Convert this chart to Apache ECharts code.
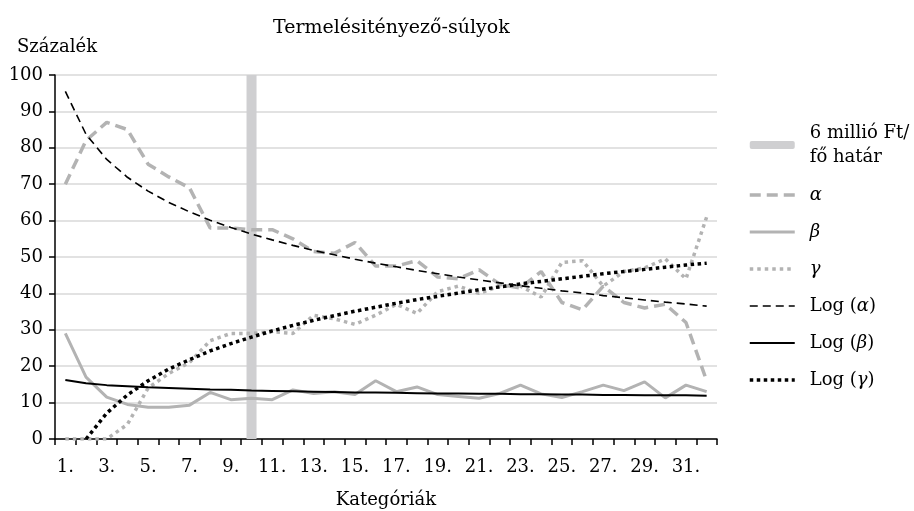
<!DOCTYPE html>
<html>
<head>
<meta charset="utf-8">
<script src="https://cdn.jsdelivr.net/npm/echarts@6/dist/echarts.min.js"></script>
<style>
  html, body { margin: 0; padding: 0; background: #fff; }
  #chart { width: 914px; height: 511px; }
</style>
</head>
<body>
<div id="chart"></div>
<script>
  // kategóriák 1..32
  var categories = [];
  for (var i = 1; i <= 32; i++) { categories.push(i + '.'); }

  // 6 millió Ft/fő határ (10. kategória)
  var limitBar = ['-', '-', '-', '-', '-', '-', '-', '-', '-', 100, '-', '-', '-', '-', '-', '-',
    '-', '-', '-', '-', '-', '-', '-', '-', '-', '-', '-', '-', '-', '-', '-', '-'];

  var alpha = [70, 82, 87, 85, 75.5, 72, 69, 58, 58, 57.5, 57.5, 55, 51.5, 51, 54, 47.5,
    47.5, 49, 44.5, 44, 46.5, 42.5, 41.5, 46, 37.5, 35.5, 42, 37.5, 36, 37, 32, 16];
  var beta = [29, 17, 11.5, 9.5, 8.7, 8.7, 9.3, 12.8, 10.8, 11.2, 10.8, 13.5, 12.5, 13, 12.2, 16,
    13, 14.3, 12.2, 11.7, 11.2, 12.5, 14.8, 12.4, 11.4, 13, 14.8, 13.3, 15.7, 11.3, 14.8, 13];
  var gamma = [0, 0, 0, 4, 14, 18, 21, 27, 29, 29, 29.5, 29, 34, 33, 31.5, 34,
    37, 34.5, 40.5, 42, 40, 42, 42, 39, 48.5, 49, 42, 46, 47, 49.5, 44, 61];
  var logAlpha = [95.5, 83.7, 76.8, 71.9, 68.1, 65.0, 62.4, 60.1, 58.1, 56.3, 54.7, 53.2, 51.8, 50.6, 49.4, 48.3,
    47.3, 46.3, 45.4, 44.5, 43.7, 42.9, 42.1, 41.4, 40.7, 40.1, 39.4, 38.8, 38.2, 37.6, 37.1, 36.5];
  var logBeta = [16.2, 15.3, 14.8, 14.5, 14.2, 14.0, 13.8, 13.6, 13.5, 13.3, 13.2, 13.1, 13.0, 12.9, 12.8, 12.8,
    12.7, 12.6, 12.5, 12.5, 12.4, 12.4, 12.3, 12.3, 12.2, 12.2, 12.1, 12.1, 12.0, 12.0, 12.0, 11.9];
  var logGamma = ['-', 0, 7.1, 12.1, 16.0, 19.2, 21.8, 24.2, 26.2, 28.0, 29.7, 31.2, 32.6, 33.9, 35.1, 36.2,
    37.3, 38.3, 39.2, 40.1, 41.0, 41.8, 42.6, 43.3, 44.0, 44.7, 45.4, 46.0, 46.6, 47.2, 47.8, 48.3];

  var yTicks = [0, 10, 20, 30, 40, 50, 60, 70, 80, 90, 100];

  var FONT = 'DejaVu Serif';
  var GRAY = '#b3b3b3';

  // vonalstílusok: [szín, vastagság, típus]
  var styles = {
    a: [GRAY, 3.5, [11, 6]],
    b: [GRAY, 3, 'solid'],
    g: [GRAY, 3.5, [3.5, 4]],
    la: ['#000', 1.6, [8, 5]],
    lb: ['#000', 2, 'solid'],
    lg: ['#000', 3.5, [3.5, 3.5]]
  };

  var chart = echarts.init(document.getElementById('chart'), null, { renderer: 'canvas' });

  function lineSeries (name, data) {
    var s = styles[name];
    return {
      name: name,
      type: 'line',
      data: data,
      symbol: 'none',
      smooth: false,
      animation: false,
      lineStyle: { color: s[0], width: s[1], type: s[2] },
      itemStyle: { color: s[0] }
    };
  }

  // legend elem, szimbólum nélkül (csak a vonal látszik)
  function legendItem (name) {
    var s = styles[name];
    return {
      name: name,
      itemStyle: { opacity: 0 },
      lineStyle: { color: s[0], width: s[1], type: s[2] }
    };
  }

  chart.setOption({
    backgroundColor: '#ffffff',
    textStyle: { fontFamily: FONT, color: '#000' },
    title: [{
      text: 'Termelésitényező-súlyok',
      left: 268,
      top: 14,
      textStyle: { fontFamily: FONT, fontSize: 19, fontWeight: 'normal', color: '#000' }
    }, {
      text: 'Százalék',
      left: 12,
      top: 33,
      textStyle: { fontFamily: FONT, fontSize: 18, fontWeight: 'normal', color: '#000' }
    }],
    legend: {
      orient: 'vertical',
      left: 748,
      top: 121,
      padding: 0,
      itemWidth: 45,
      itemHeight: 8,
      itemGap: 15,
      textStyle: {
        fontFamily: FONT,
        fontSize: 18,
        color: '#000',
        lineHeight: 22,
        padding: [0, 0, 0, 10],
        rich: {
          i: { fontFamily: FONT, fontSize: 18, fontStyle: 'italic', color: '#000', lineHeight: 22 },
          h: { fontFamily: FONT, fontSize: 18, color: '#000', lineHeight: 24 }
        }
      },
      formatter: function (name) {
        var m = {
          'hatar': '{h|6 millió Ft/}\n{h|fő határ}',
          'a': '{i|α}',
          'b': '{i|β}',
          'g': '{i|γ}',
          'la': 'Log ({i|α})',
          'lb': 'Log ({i|β})',
          'lg': 'Log ({i|γ})'
        };
        return m[name];
      },
      data: [
        'hatar',
        legendItem('a'), legendItem('b'), legendItem('g'),
        legendItem('la'), legendItem('lb'), legendItem('lg')
      ]
    },
    grid: {
      left: 55,
      right: 197,
      top: 75,
      bottom: 72,
      containLabel: false,
      outerBoundsMode: 'none'
    },
    xAxis: {
      type: 'category',
      data: categories,
      boundaryGap: true,
      name: 'Kategóriák',
      nameLocation: 'middle',
      nameGap: 52,
      nameTextStyle: { fontFamily: FONT, fontSize: 18, color: '#000' },
      axisLine: { lineStyle: { color: '#000', width: 1.5 } },
      axisTick: { show: true, interval: 0, length: 6, lineStyle: { color: '#000', width: 1.5 } },
      axisLabel: { interval: 1, margin: 19, fontFamily: FONT, fontSize: 18, color: '#000' },
      splitLine: { show: false }
    },
    yAxis: {
      type: 'value',
      min: yTicks[0],
      max: yTicks[yTicks.length - 1],
      interval: 10,
      axisLine: { show: true, lineStyle: { color: '#000', width: 1.5 } },
      axisTick: { show: true, length: 6, lineStyle: { color: '#000', width: 1.5 } },
      axisLabel: { margin: 12, fontFamily: FONT, fontSize: 18, color: '#000' },
      splitLine: { show: true, lineStyle: { color: '#d9d9d9', width: 1.5 } }
    },
    series: [
      {
        name: 'hatar',
        type: 'bar',
        data: limitBar,
        barWidth: 10,
        animation: false,
        itemStyle: { color: '#cfcfd1' }
      },
      lineSeries('a', alpha),
      lineSeries('b', beta),
      lineSeries('g', gamma),
      lineSeries('la', logAlpha),
      lineSeries('lb', logBeta),
      lineSeries('lg', logGamma)
    ]
  });
</script>
</body>
</html>
